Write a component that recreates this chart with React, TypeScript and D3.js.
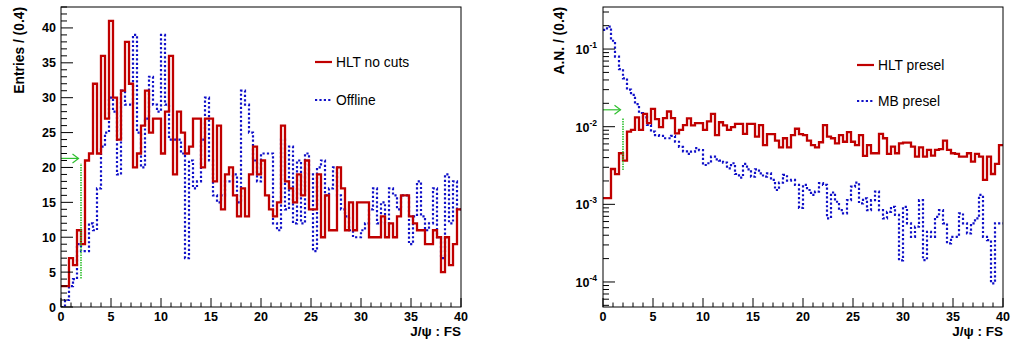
import React from "react";
import * as d3 from "d3";

// Histogram binning shared by both pads
const binWidth = 0.4;
const xMin = 0;
const xMax = 40;

// Left pad: raw entries per 0.4 bin
const hltNoCuts = [
  3, 3, 7, 6, 11, 9, 21, 22, 32, 22,
  36, 27, 41, 30, 24, 31, 38, 32, 20, 22,
  26, 31, 25, 27, 27, 22, 28, 36, 19, 28,
  25, 22, 23, 27, 27, 20, 27, 27, 18, 26,
  14, 19, 20, 16, 13, 17, 13, 19, 23, 19,
  21, 16, 14, 13, 15, 26, 18, 17, 15, 19,
  16, 21, 14, 14, 19, 10, 16, 11, 11, 20,
  17, 11, 15, 11, 15, 15, 15, 10, 10, 10,
  13, 10, 12, 10, 13, 16, 16, 13, 12, 11,
  11, 9, 9, 11, 10, 5, 10, 6, 9, 14,
];

const offline = [
  0, 1, 3, 4, 9, 8, 8, 12, 11, 17,
  23, 25, 30, 28, 19, 31, 29, 29, 39, 25,
  20, 27, 33, 29, 28, 39, 29, 24, 24, 24,
  22, 7, 21, 17, 18, 24, 30, 21, 16, 15,
  16, 18, 18, 19, 15, 31, 29, 25, 21, 18,
  22, 22, 22, 12, 11, 24, 14, 23, 12, 21,
  12, 22, 19, 8, 20, 21, 16, 17, 20, 16,
  14, 13, 11, 10, 10, 11, 12, 14, 17, 12,
  15, 12, 17, 16, 14, 16, 16, 9, 13, 18,
  13, 11, 12, 17, 10, 7, 19, 12, 18, 14,
];

// Right pad: area-normalised distributions
const hltPresel = [
  1.2e-3, 1.2e-3, 2.85e-3, 2.45e-3, 4.55e-3, 3.66e-3, 8.65e-3, 9.1e-3, 0.0132, 9.1e-3,
  0.0146, 0.0111, 0.017, 0.0125, 9.9e-3, 0.0129, 0.0157, 0.0129, 8.2e-3, 9.1e-3,
  0.0105, 0.0128, 0.0104, 0.0111, 0.0111, 9.1e-3, 0.0117, 0.0146, 7.8e-3, 0.0114,
  0.0104, 9.1e-3, 9.9e-3, 0.0109, 0.0109, 8.1e-3, 0.0109, 0.0109, 7.45e-3, 0.0105,
  5.8e-3, 8.0e-3, 8.0e-3, 6.6e-3, 5.4e-3, 7.1e-3, 5.4e-3, 7.8e-3, 9.4e-3, 8.0e-3,
  7.8e-3, 6.6e-3, 5.8e-3, 5.4e-3, 6.3e-3, 0.0105, 7.45e-3, 7.1e-3, 6.1e-3, 7.8e-3,
  6.4e-3, 8.5e-3, 6.4e-3, 5.8e-3, 7.8e-3, 4.2e-3, 5.8e-3, 4.55e-3, 4.55e-3, 8.1e-3,
  7.1e-3, 4.46e-3, 5.55e-3, 4.55e-3, 6.1e-3, 6.24e-3, 6.24e-3, 5.55e-3, 4.11e-3, 5.43e-3,
  4.11e-3, 5.02e-3, 4.24e-3, 5.02e-3, 5.13e-3, 6.6e-3, 5.02e-3, 4.55e-3, 4.46e-3, 4.11e-3,
  4.11e-3, 4.55e-3, 3.55e-3, 4.46e-3, 4.11e-3, 2.06e-3, 4.11e-3, 2.46e-3, 3.31e-3, 5.8e-3,
];

const mbPresel = [
  0.177, 0.195, 0.128, 0.08, 0.055, 0.042, 0.03, 0.0257, 0.0195, 0.015,
  0.0132, 0.01055, 8.65e-3, 7.8e-3, 7.6e-3, 7.1e-3, 7.1e-3, 7.6e-3, 6.4e-3, 5.5e-3,
  4.8e-3, 4.46e-3, 4.78e-3, 5.3e-3, 5.0e-3, 3.21e-3, 3.38e-3, 4.11e-3, 3.8e-3, 3.66e-3,
  3.45e-3, 2.91e-3, 3.38e-3, 2.46e-3, 2.21e-3, 3.31e-3, 2.82e-3, 2.27e-3, 2.82e-3, 2.51e-3,
  2.27e-3, 2.51e-3, 2.06e-3, 1.53e-3, 1.9e-3, 2.39e-3, 2.02e-3, 2.06e-3, 1.78e-3, 9.0e-4,
  1.78e-3, 1.53e-3, 1.32e-3, 1.46e-3, 1.87e-3, 1.78e-3, 6.6e-4, 1.42e-3, 1.08e-3, 8.4e-4,
  7.65e-4, 1.13e-3, 1.69e-3, 1.9e-3, 1.03e-3, 1.19e-3, 8.4e-4, 1.13e-3, 1.46e-3, 8.4e-4,
  6.6e-4, 8.0e-4, 9.3e-4, 7.3e-4, 1.9e-4, 9.3e-4, 5.7e-4, 3.82e-4, 5.15e-4, 1.13e-3,
  1.91e-4, 4.43e-4, 3.82e-4, 6.9e-4, 8.4e-4, 5.7e-4, 3.14e-4, 3.82e-4, 3.82e-4, 7.65e-4,
  5.7e-4, 4.22e-4, 5.7e-4, 6.6e-4, 1.32e-3, 3.82e-4, 3.46e-4, 9.6e-5, 5.7e-4, 5.7e-4,
];

// Axis labelling
const xTickLabels = [0, 5, 10, 15, 20, 25, 30, 35, 40];
const entriesTickLabels = [0, 5, 10, 15, 20, 25, 30, 35, 40];
const decadeExponents = [-4, -3, -2, -1];
const xTitle = "J/\u03c8 : FS";
const leftYTitle = "Entries / (0.4)";
const rightYTitle = "A.N. / (0.4)";
const leftLegend = ["HLT no cuts", "Offline"];
const rightLegend = ["HLT presel", "MB presel"];

// Trigger threshold marker (value on the x axis, levels on each pad's y axis)
const cutValue = 2.0;
const arrowTip = 1.75;
const leftMarker = { arrowLevel: 21.3, lineFrom: 4.1, lineTo: 20.6 };
const rightMarker = { arrowLevel: 0.0165, lineFrom: 2.77e-3, lineTo: 0.0131 };

// Drawing constants
const W = 1011;
const H = 348;
const TOP = 7;
const BOTTOM = 307;
const FONT = '"Liberation Sans", Arial, Helvetica, sans-serif';
const RED = "#c00000";
const BLUE = "#1010c8";
const GREEN = "#30c030";
const DOTS = "2.2 2.2";

type Scale = (v: number) => number;

function stepPath(values: number[], x: Scale, y: Scale): string {
  const pts: [number, number][] = [];
  values.forEach((v, i) => {
    const lo = xMin + i * binWidth;
    pts.push([x(lo), y(v)], [x(lo + binWidth), y(v)]);
  });
  return d3.line()(pts) ?? "";
}

function XAxis({ x }: { x: d3.ScaleLinear<number, number> }) {
  const minors = d3.range(xMin, xMax + 1, 1).filter((v) => v % 5 !== 0);
  return (
    <g>
      {xTickLabels.map((v) => (
        <line key={"xM" + v} x1={x(v)} x2={x(v)} y1={BOTTOM} y2={BOTTOM - 9} stroke="#000" strokeWidth={1} />
      ))}
      {minors.map((v) => (
        <line key={"xm" + v} x1={x(v)} x2={x(v)} y1={BOTTOM} y2={BOTTOM - 4.5} stroke="#000" strokeWidth={1} />
      ))}
      {xTickLabels.map((v) => (
        <text key={"xl" + v} x={x(v)} y={320.5} textAnchor="middle" fontSize={12.5} fontWeight="bold" fontFamily={FONT}>
          {v}
        </text>
      ))}
      <text x={x(xMax)} y={336} textAnchor="end" fontSize={13.5} fontWeight="bold" fontFamily={FONT}>
        {xTitle}
      </text>
    </g>
  );
}

function Legend({ x0, ys, labels }: { x0: number; ys: number[]; labels: string[] }) {
  return (
    <g fontFamily={FONT} fontSize={13.8}>
      <line x1={x0} x2={x0 + 17} y1={ys[0]} y2={ys[0]} stroke={RED} strokeWidth={2.2} />
      <text x={x0 + 21} y={ys[0] + 5}>{labels[0]}</text>
      <line x1={x0} x2={x0 + 17} y1={ys[1]} y2={ys[1]} stroke={BLUE} strokeWidth={2.2} strokeDasharray={DOTS} />
      <text x={x0 + 21} y={ys[1] + 5}>{labels[1]}</text>
    </g>
  );
}

function Marker({ x, y, m }: { x: Scale; y: Scale; m: { arrowLevel: number; lineFrom: number; lineTo: number } }) {
  const ay = y(m.arrowLevel);
  const tip = x(arrowTip);
  return (
    <g stroke={GREEN} fill="none">
      <line x1={x(xMin)} x2={tip} y1={ay} y2={ay} strokeWidth={1.2} />
      <polyline points={`${tip - 6},${ay - 4.5} ${tip},${ay} ${tip - 6},${ay + 4.5}`} strokeWidth={1.2} />
      <line x1={x(cutValue)} x2={x(cutValue)} y1={y(m.lineFrom)} y2={y(m.lineTo)} strokeWidth={1.6} strokeDasharray="1.5 1" />
    </g>
  );
}

export default function App() {
  // Left pad scales
  const xL = d3.scaleLinear().domain([xMin, xMax]).range([61, 461]);
  const yL = d3.scaleLinear().domain([0, 43]).range([BOTTOM, TOP]);
  // Right pad scales
  const xR = d3.scaleLinear().domain([xMin, xMax]).range([603, 1003]);
  const yR = d3.scaleLog().domain([4.76e-5, 0.348]).range([BOTTOM, TOP]);

  const yLMinor = d3.range(0, 44, 1).filter((v) => v % 5 !== 0);
  const [rLo, rHi] = yR.domain();
  const yRMinor: number[] = [];
  for (let e = -5; e <= 0; e++) {
    for (let k = 2; k <= 9; k++) {
      const v = k * Math.pow(10, e);
      if (v >= rLo && v <= rHi) yRMinor.push(v);
    }
  }

  return (
    <svg
      width={W}
      height={H}
      viewBox={`0 0 ${W} ${H}`}
      style={{ position: "absolute", left: 0, top: 0, background: "#fff" }}
    >
      <defs>
        <clipPath id="clipL">
          <rect x={61} y={TOP} width={400} height={BOTTOM - TOP} />
        </clipPath>
        <clipPath id="clipR">
          <rect x={603} y={TOP} width={400} height={BOTTOM - TOP} />
        </clipPath>
      </defs>
      <rect x={0} y={0} width={W} height={H} fill="#fff" />

      {/* ---------- left pad ---------- */}
      <g>
        <g clipPath="url(#clipL)" fill="none">
          <path d={stepPath(offline, xL, yL)} stroke={BLUE} strokeWidth={2.2} strokeDasharray={DOTS} />
          <path d={stepPath(hltNoCuts, xL, yL)} stroke={RED} strokeWidth={2.3} />
        </g>
        <Marker x={xL} y={yL} m={leftMarker} />
        <rect x={61} y={TOP} width={400} height={BOTTOM - TOP} fill="none" stroke="#000" strokeWidth={1} />
        {entriesTickLabels.map((v) => (
          <line key={"yM" + v} x1={61} x2={73} y1={yL(v)} y2={yL(v)} stroke="#000" strokeWidth={1} />
        ))}
        {yLMinor.map((v) => (
          <line key={"ym" + v} x1={61} x2={67} y1={yL(v)} y2={yL(v)} stroke="#000" strokeWidth={1} />
        ))}
        {entriesTickLabels.map((v) => (
          <text key={"yl" + v} x={56} y={yL(v) + 4.5} textAnchor="end" fontSize={12.5} fontWeight="bold" fontFamily={FONT}>
            {v}
          </text>
        ))}
        <text
          transform={`translate(23.5, ${TOP}) rotate(-90)`}
          textAnchor="end"
          fontSize={13.8}
          fontWeight="bold"
          fontFamily={FONT}
        >
          {leftYTitle}
        </text>
        <XAxis x={xL} />
        <Legend x0={315} ys={[62, 100]} labels={leftLegend} />
      </g>

      {/* ---------- right pad ---------- */}
      <g>
        <g clipPath="url(#clipR)" fill="none">
          <path d={stepPath(mbPresel, xR, yR)} stroke={BLUE} strokeWidth={2.2} strokeDasharray={DOTS} />
          <path d={stepPath(hltPresel, xR, yR)} stroke={RED} strokeWidth={2.3} />
        </g>
        <Marker x={xR} y={yR} m={rightMarker} />
        <rect x={603} y={TOP} width={400} height={BOTTOM - TOP} fill="none" stroke="#000" strokeWidth={1} />
        {decadeExponents.map((e) => (
          <line key={"rM" + e} x1={603} x2={615} y1={yR(Math.pow(10, e))} y2={yR(Math.pow(10, e))} stroke="#000" strokeWidth={1} />
        ))}
        {yRMinor.map((v, i) => (
          <line key={"rm" + i} x1={603} x2={609} y1={yR(v)} y2={yR(v)} stroke="#000" strokeWidth={1} />
        ))}
        {decadeExponents.map((e) => (
          <text
            key={"rl" + e}
            x={597}
            y={yR(Math.pow(10, e)) + 5}
            textAnchor="end"
            fontSize={12.5}
            fontWeight="bold"
            fontFamily={FONT}
          >
            10
            <tspan dy={-6} fontSize={8.5}>
              {String(e)}
            </tspan>
          </text>
        ))}
        <text
          transform={`translate(563.5, ${TOP}) rotate(-90)`}
          textAnchor="end"
          fontSize={13.8}
          fontWeight="bold"
          fontFamily={FONT}
        >
          {rightYTitle}
        </text>
        <XAxis x={xR} />
        <Legend x0={857} ys={[65, 101]} labels={rightLegend} />
      </g>
    </svg>
  );
}
